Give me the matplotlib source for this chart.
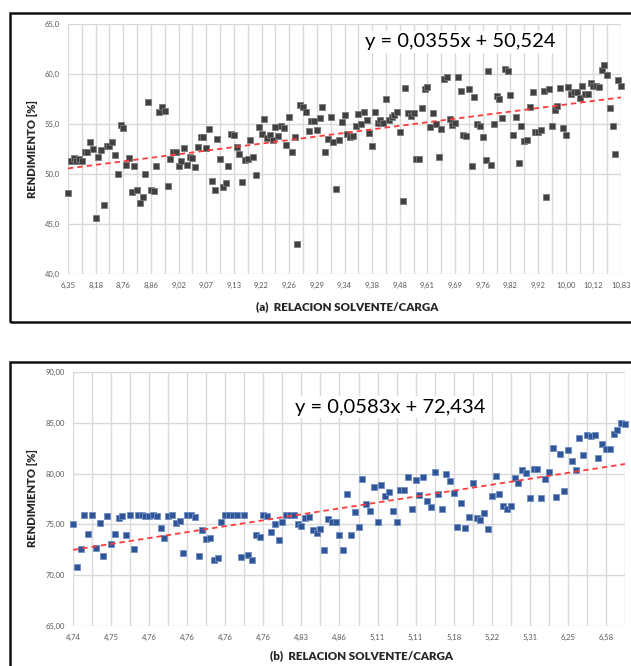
import numpy as np
import matplotlib
matplotlib.use('Agg')
import matplotlib.pyplot as plt
from matplotlib.patches import Rectangle

plt.rcParams['font.family'] = ['Lato', 'DejaVu Sans']

# (a) rendimiento vs relacion solvente/carga (201 puntos, eje de categorias)
top_vals = [
    48.1, 51.3, 51.6, 51.3, 51.5, 51.3, 52.2, 52.2, 53.2, 52.5,
    45.6, 51.7, 52.4, 46.9, 52.8, 52.8, 53.2, 51.9, 50.0, 54.9,
    54.6, 50.9, 51.6, 48.2, 50.8, 48.4, 47.1, 47.7, 50.0, 57.2,
    48.4, 48.3, 50.8, 56.2, 56.7, 56.3, 48.8, 51.5, 52.2, 52.2,
    50.8, 51.3, 52.6, 50.9, 51.7, 51.6, 50.7, 52.7, 53.7, 53.7,
    52.6, 54.5, 49.3, 48.4, 53.5, 51.5, 48.7, 49.1, 50.8, 54.0,
    53.9, 52.7, 52.0, 49.2, 51.4, 51.5, 53.4, 51.7, 49.9, 54.7,
    54.0, 55.5, 53.6, 53.9, 53.4, 54.7, 53.8, 54.8, 54.6, 52.9,
    55.7, 52.2, 53.7, 43.0, 56.9, 56.7, 56.2, 54.3, 55.3, 55.3,
    54.4, 55.6, 56.7, 52.2, 53.5, 55.7, 53.2, 48.5, 53.4, 55.2,
    55.9, 54.0, 53.7, 53.8, 54.8, 56.0, 55.0, 56.2, 55.4, 54.1,
    52.8, 56.2, 55.1, 55.4, 55.1, 57.5, 55.4, 55.7, 55.9, 56.2,
    54.2, 47.3, 58.6, 56.1, 55.8, 56.1, 51.5, 51.5, 56.6, 58.5,
    58.7, 54.7, 56.1, 55.0, 51.7, 54.5, 59.5, 59.7, 55.5, 54.9,
    55.1, 59.7, 58.3, 53.9, 53.8, 58.5, 50.8, 57.7, 55.0, 54.8,
    53.7, 51.4, 60.3, 50.9, 55.0, 57.8, 57.5, 55.6, 60.5, 60.3,
    57.9, 53.9, 55.7, 51.1, 54.8, 53.3, 53.4, 56.7, 58.2, 54.2,
    54.2, 54.4, 58.3, 47.7, 58.5, 54.8, 56.4, 56.8, 58.6, 54.6,
    53.9, 58.7, 58.0, 58.2, 58.2, 57.6, 58.8, 58.0, 58.0, 59.1,
    58.8, 58.8, 58.7, 60.4, 60.9, 59.9, 56.6, 54.8, 52.0, 59.4, 58.8,
]
top_labels = ['6,35', '8,18', '8,76', '8,86', '9,02', '9,07', '9,13', '9,22', '9,26',
              '9,29', '9,34', '9,38', '9,48', '9,61', '9,69', '9,76', '9,82', '9,92',
              '10,00', '10,12', '10,83']
top_trend = (0.0355, 50.524)

# (b) rendimiento vs relacion solvente/carga (146 puntos)
bot_vals = [
    75.0, 70.8, 72.6, 75.9, 74.1, 75.9, 72.7, 75.1, 71.9, 75.8,
    73.1, 74.1, 75.6, 75.8, 74.0, 75.9, 72.6, 75.9, 75.9, 75.8,
    75.8, 75.9, 75.8, 74.6, 73.7, 75.8, 75.9, 75.1, 75.3, 72.2,
    75.9, 75.9, 75.7, 71.9, 74.4, 73.6, 73.7, 71.5, 71.7, 75.2,
    75.9, 75.9, 75.9, 75.9, 71.8, 75.9, 72.0, 71.5, 74.0, 73.8,
    75.9, 75.8, 74.3, 75.0, 73.5, 75.2, 75.9, 75.9, 75.9, 75.0,
    74.8, 75.6, 75.7, 74.4, 74.2, 74.5, 72.5, 75.5, 75.2, 75.2,
    74.0, 72.5, 78.0, 74.0, 76.2, 74.7, 79.5, 77.0, 76.3, 78.7,
    75.2, 78.9, 77.8, 78.2, 76.3, 75.2, 78.4, 78.4, 79.7, 76.5,
    79.4, 77.9, 79.7, 77.3, 76.7, 80.2, 78.0, 76.5, 80.0, 79.3,
    78.1, 74.7, 77.1, 74.6, 75.7, 79.1, 75.6, 75.4, 76.1, 74.5,
    77.8, 79.8, 78.0, 76.8, 76.5, 76.8, 79.6, 79.1, 80.4, 80.1,
    77.6, 80.5, 80.5, 77.6, 79.5, 80.2, 82.5, 77.7, 81.9, 78.3,
    82.3, 81.2, 80.4, 83.5, 81.8, 83.8, 83.7, 83.8, 81.5, 82.9,
    82.4, 82.4, 83.9, 84.3, 85.0, 84.9,
]
bot_labels = ['4,74', '4,75', '4,76', '4,76', '4,76', '4,76', '4,83', '4,86', '5,11',
              '5,11', '5,18', '5,22', '5,31', '6,25', '6,58']
bot_trend = (0.0583, 72.434)

W, H = 631, 666
fig = plt.figure(figsize=(W / 100, H / 100), dpi=100)

def px_axes(l, t, r, b):
    return fig.add_axes([l / W, 1 - b / H, (r - l) / W, (b - t) / H])

def panel(ax, vals, labels, trend, ylim, yfmt, color, edge):
    n = len(vals)
    x = np.arange(1, n + 1)
    ax.set_xlim(1, n)
    ax.set_ylim(*ylim)
    ticks = np.arange(1, n + 1, 5)
    tl = []
    for k, t in enumerate(ticks):
        tl.append(labels[k // 2] if k % 2 == 0 else '')
    ax.set_xticks(ticks)
    ax.set_xticklabels(tl)
    yt = np.arange(ylim[0], ylim[1] + 0.1, 5)
    ax.set_yticks(yt)
    ax.set_yticklabels([yfmt.format(v).replace('.', ',') for v in yt])
    ax.tick_params(length=0, labelsize=5.5, labelcolor='#595959', pad=6)
    ax.grid(True, color='#d9d9d9', lw=1)
    ax.set_axisbelow(True)
    for s in ax.spines.values():
        s.set_visible(False)
    ax.plot(x, vals, ls='none', marker='s', ms=3.8, mfc=color, mec=edge, mew=0.6,
            clip_on=False, zorder=3)
    m, c = trend
    xe = np.array([1, n])
    ax.plot(xe, m * xe + c, color='#ff3b3b', ls=(0, (3, 2.2)), lw=1.3, zorder=4)

# top panel
ax1 = px_axes(68, 24, 621, 274)
panel(ax1, top_vals, top_labels, top_trend, (40, 65), '{:.1f}', '#404040', '#7a7a7a')
fig.text(460 / W, 1 - 42 / H, 'y = 0,0355x + 50,524', fontsize=14.5, ha='center', va='center',
         color='#000000', bbox=dict(fc='white', ec='none', pad=2))
fig.text(32 / W, 1 - 149 / H, 'RENDIMIENTO [%]', rotation=90, fontsize=8, fontweight='heavy',
         ha='center', va='center', color='#262626')
fig.text(347 / W, 1 - 307 / H, '(a)  RELACION SOLVENTE/CARGA', fontsize=8.3, fontweight='heavy',
         ha='center', va='center', color='#262626')

# bottom panel
ax2 = px_axes(73, 372, 625, 626)
panel(ax2, bot_vals, bot_labels, bot_trend, (65, 90), '{:.2f}', '#2f5597', '#6f8fc4')
fig.text(390 / W, 1 - 407 / H, 'y = 0,0583x + 72,434', fontsize=14.5, ha='center', va='center',
         color='#000000', bbox=dict(fc='white', ec='none', pad=2))
fig.text(32 / W, 1 - 498 / H, 'RENDIMIENTO [%]', rotation=90, fontsize=8, fontweight='heavy',
         ha='center', va='center', color='#262626')
fig.text(362 / W, 1 - 656 / H, '(b)  RELACION SOLVENTE/CARGA', fontsize=8.3, fontweight='heavy',
         ha='center', va='center', color='#262626')

# panel frames
fig.add_artist(Rectangle((10 / W, 1 - 322 / H), 640 / W, 309 / H, transform=fig.transFigure,
                         fill=False, ec='#111111', lw=1.8))
fig.add_artist(Rectangle((10 / W, 1 - 690 / H), 640 / W, 328 / H, transform=fig.transFigure,
                         fill=False, ec='#111111', lw=1.8))

fig.savefig('out.png', dpi=100)
